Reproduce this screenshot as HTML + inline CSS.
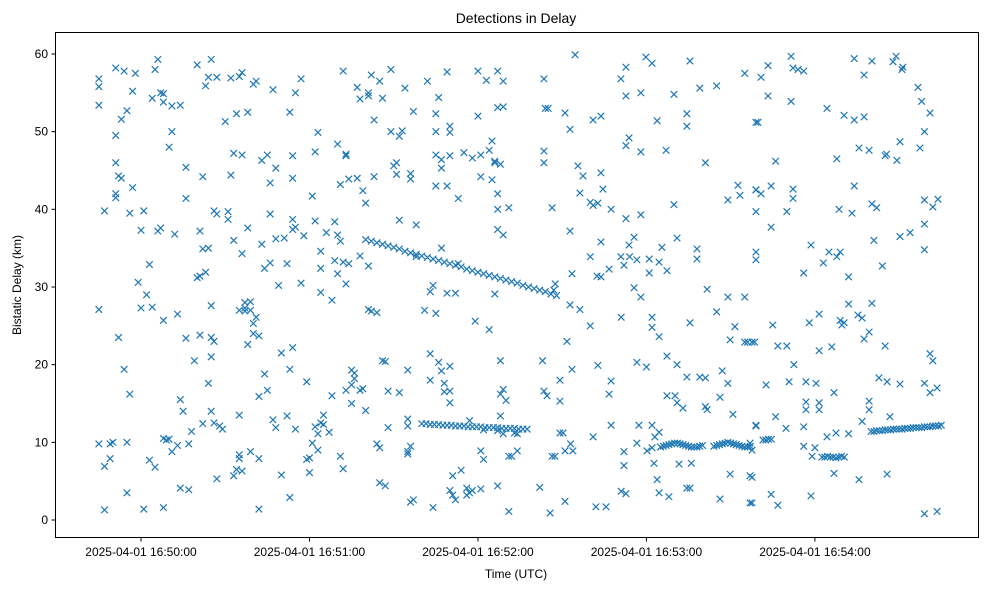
<!DOCTYPE html>
<html>
<head>
<meta charset="utf-8">
<style>
  html,body{margin:0;padding:0;background:#fff;}
  svg{display:block;font-family:"Liberation Sans","DejaVu Sans",sans-serif;}
</style>
</head>
<body>
<svg id="chart" width="989" height="590" viewBox="0 0 989 590">
  <rect x="0" y="0" width="989" height="590" fill="#fff"/>
  <text x="516" y="23" text-anchor="middle" font-size="14" fill="#000">Detections in Delay</text>
  <text x="516" y="578" text-anchor="middle" font-size="12" fill="#000">Time (UTC)</text>
  <text x="21" y="285" text-anchor="middle" font-size="12" fill="#000" transform="rotate(-90 21 285)">Bistatic Delay (km)</text>
  <g id="marks"></g>
  <g id="axes"></g>
  <rect x="55.5" y="32.5" width="923" height="505" fill="none" stroke="#000" stroke-width="1"/>
</svg>
<script>
// ---- data ----
const xTickSeconds = [0, 60, 120, 180, 240];
const xTickLabels = ["2025-04-01 16:50:00","2025-04-01 16:51:00","2025-04-01 16:52:00","2025-04-01 16:53:00","2025-04-01 16:54:00"];
const yTickValues = [0, 10, 20, 30, 40, 50, 60];
const yTickLabels = ["0","10","20","30","40","50","60"];
// seconds after 16:50:00 UTC, bistatic delay km
const scatterDetections = [
[-15,56.8],[-15,55.8],[-15,53.4],[-15,27.1],[-15,9.8],[-13,39.8],[-13,6.9],[-13,1.3],[-11,7.9],[-11,9.8],[-10,10],[-9,58.2],[-9,49.5],[-9,46],[-9,42],[-9,41.5],[-8,44.3],[-8,23.5],[-7,44],[-7,51.6],[-6,19.4],[-6,57.8],[-5,3.5],[-5,10],[-5,52.7],[-4,16.2],[-4,39.5],[-3,42.8],[-3,55.2],[-2,57.5],[-1,30.6],[0,27.3],[0,37.3],[1,39.8],[1,1.4],[2,29],[3,32.9],[3,7.7],[4,54.3],[4,27.4],[5,6.8],[5,58],[6,59.3],[6,37.2],[7,37.6],[7,55],[8,54.9],[8,53.8],[8,25.7],[8,1.6],[8,10.5],[9,10.3],[10,10.4],[10,48],[11,50],[11,53.3],[11,8.8],[12,36.8],[13,9.6],[13,26.5],[14,53.4],[14,15.5],[14,4.1],[15,14],[16,45.4],[16,41.4],[16,23.4],[17,3.9],[17,9.8],[18,11.4],[19,20.5],[20,58.6],[20,31.2],[21,37.2],[21,23.8],[21,31.4],[22,44.2],[22,34.9],[22,12.4],[23,31.9],[23,55.9],[24,57],[24,35],[24,17.6],[25,59.3],[25,27.6],[25,23.5],[25,21],[25,14],[26,12.5],[26,23],[26,39.8],[27,57],[27,5.3],[27,39.4],[28,12.1],[29,11.7],[30,51.3],[31,39.7],[31,38.7],[32,44.4],[32,56.9],[33,36],[33,47.2],[33,5.7],[34,52.3],[34,6.5],[35,57.1],[35,13.5],[35,7.9],[35,8.4],[35,27],[36,57.6],[36,34.3],[36,47],[36,6.3],[37,26.9],[37,28],[37,27.3],[38,52.5],[38,22.6],[38,37.6],[39,28.1],[39,27],[39,8.8],[40,56.1],[40,25.3],[40,24],[41,56.5],[41,26.1],[42,15.9],[42,7.9],[42,1.4],[42,23.7],[43,35.5],[43,46.3],[44,32.4],[44,18.8],[45,16.7],[45,47],[46,43.4],[46,39.4],[46,33.1],[47,55.4],[47,12.9],[48,11.9],[48,45.3],[48,36.2],[49,30.2],[50,21.5],[50,5.8],[51,36.3],[52,33],[52,13.4],[53,52.5],[53,19.4],[53,2.9],[54,37.4],[54,44],[54,46.9],[54,38.7],[54,22.2],[55,55],[55,37.7],[55,11.7],[57,56.8],[57,30.5],[58,36.6],[59,17.8],[59,7.8],[60,8],[60,6.1],[61,9.9],[61,41.7],[62,47.4],[62,38.5],[62,12],[63,49.9],[63,9],[63,11.1],[64,32.4],[64,29.3],[64,34.6],[64,12.5],[65,13.5],[65,12.3],[66,37],[67,11.3],[68,16],[68,28.3],[69,38.4],[69,33.4],[70,31.7],[70,48.4],[70,36.7],[71,8.2],[71,43.2],[71,35.9],[72,33.2],[72,57.8],[72,6.6],[73,30.4],[73,16.7],[73,46.9],[73,47.1],[74,43.9],[74,33],[75,15],[75,17.4],[75,19.3],[76,18.9],[76,18.2],[77,44],[77,55.7],[78,16.7],[78,54.2],[78,34],[79,42.4],[79,16.9],[80,40.8],[80,14.1],[81,27.1],[81,54.6],[81,32.7],[81,55],[82,26.9],[82,57.3],[83,51.5],[83,44.2],[84,9.8],[84,26.7],[85,4.8],[85,56.5],[85,9.3],[86,54.3],[86,20.5],[87,4.4],[87,20.4],[88,16.6],[88,11.9],[89,50],[89,58],[90,45.6],[91,46],[91,44.5],[92,49.4],[92,38.6],[92,16.4],[93,50.1],[94,55.6],[95,8.5],[95,19.3],[95,8.8],[95,13],[95,12.1],[96,9.5],[96,44.6],[96,43.9],[96,2.3],[97,2.6],[97,52.6],[98,33.9],[98,38],[101,27],[102,56.5],[103,18],[103,21.4],[103,29.4],[104,1.6],[104,30.2],[105,52.3],[105,50],[105,47],[105,43],[105,26.6],[106,54.4],[106,20.3],[107,45.3],[107,46.4],[107,19.2],[107,35],[108,17.6],[108,16.5],[109,57.7],[109,43],[109,29.2],[110,49.9],[110,50.7],[110,46.9],[110,3.8],[110,16.6],[110,19.8],[110,15.1],[111,5.7],[111,3.2],[112,2.6],[112,29.2],[113,41.4],[113,33],[114,6.4],[115,47.3],[116,3.2],[116,4.1],[117,3.5],[117,12.8],[118,46.6],[118,3.8],[119,25.6],[120,57.8],[120,52],[121,47],[121,8.9],[121,44.2],[121,4],[122,7.8],[122,11.6],[123,56.6],[124,47.6],[124,24.5],[125,48.8],[125,43.8],[126,29.1],[126,46.2],[126,46],[127,57.8],[127,53.1],[127,42],[127,40],[127,37.4],[127,11.5],[127,4.4],[128,13.4],[128,16.2],[128,20.5],[128,45.8],[129,56.5],[129,53.2],[129,36.7],[129,16.8],[129,11.1],[130,15.4],[131,8.2],[131,40.2],[131,1.1],[132,8.2],[133,11.2],[134,11.1],[134,8.9],
[154.6,59.9],[172.7,58.3],[170.9,56.8],[179.8,59.6],[182,58.8],[195.5,59.1],[215,57.5],[172.7,54.6],[178,55],[189.8,54.8],[199,55.6],[205,55.9],[143.5,56.8],[144,53],[145,53],[151,52.4],[152.8,50.3],[161,51.5],[163.8,52],[183.8,51.4],[194.4,52.3],[194.4,50.7],[219,51.2],[172.7,48.2],[173.8,49.2],[178,47.4],[187,47.6],[143.5,47.5],[143.5,46],[201,46],[155.6,45.6],[157.4,44.3],[163.8,44.7],[164.5,42.6],[156.3,42.1],[146.4,40.2],[160,40.9],[161,40.5],[162.7,40.8],[167.4,40],[172.7,38.8],[178,39.3],[189.8,40.6],[209,41.2],[212.6,43.1],[213.3,41.8],[219,42.5],[219,39.7],[152.8,37.2],[163.8,35.8],[173.8,35.4],[175.6,36.4],[185.5,35.1],[190.9,36.3],[160,33.9],[170.9,33.9],[172,32.8],[174,33.9],[176.6,33.5],[181,33.6],[181,31.8],[184.5,33.2],[187.3,32.1],[166.7,32.3],[162.4,31.4],[163.8,31.3],[153.5,31.7],[198,34.9],[198,33.6],[219,34.5],[219,33.5],[175.6,29.9],[178,28.7],[201.6,29.7],[209,28.7],[215,28.7],[152.8,27.7],[156.3,27.1],[205,26.8],[211.5,24.9],[209.8,23.2],[160,25],[171,26.1],[182,26.1],[182,24.8],[184.5,23.6],[195.5,25.4],[151.7,23],[215,22.9],[216,22.9],[143,20.5],[153.5,19.4],[162.7,19.9],[167.4,17.9],[166.7,16.2],[176.6,20.3],[180,19.7],[187.3,21.1],[190.9,20],[194.4,18.4],[199,18.4],[201,18.3],[207,19.2],[209,17.6],[149.2,18],[149.2,15.3],[143.5,16.6],[144.6,16],[187.3,16],[190.2,16],[190.9,15.1],[193,14.4],[201,14.6],[201.6,14.2],[206.2,15.8],[210.8,13.6],[219,12.2],[167.4,12.2],[177.3,12.2],[182,12.2],[184.5,11.3],[183,10.7],[149.2,11.2],[150.3,11.2],[161,10.7],[153,9.8],[151,8.9],[153.8,8.9],[146.4,8.2],[147.4,8.2],[176.6,9.9],[180.2,8.9],[182,9.3],[172,8.8],[172,7],[182.7,7.3],[191.6,7.2],[196,7.3],[209.8,5.9],[216.9,5.7],[183.8,5.2],[142,4.2],[171,3.7],[172.7,3.4],[184.5,3.5],[188,3],[194.4,4.1],[195.5,4.1],[206.2,2.7],[216.9,2.2],[151,2.4],[162,1.7],[165.6,1.7],[145.7,0.9],
[220.8,57],[223.3,58.5],[231.5,59.7],[232.2,58.2],[234,58],[236,57.8],[254,59.4],[257.5,57.3],[260.3,59.1],[267.8,59],[268.9,59.7],[271,58],[271.3,58.3],[276.7,55.7],[278,53.9],[281,52.4],[279,50],[277.4,47.9],[223.3,54.6],[231.5,53.9],[219.7,51.2],[244.3,53],[250.4,52.1],[254,51.5],[257.5,51.9],[226,46.2],[247.8,46.5],[255.7,47.9],[259.3,47.6],[265,46.9],[265.5,47.1],[269.2,46.3],[270.3,48.7],[219,42.5],[220.8,42],[224.4,43],[232.2,42.6],[232.2,41.4],[254,43],[230,39.7],[248.6,40],[253.2,39.5],[260.3,40.7],[262,40.2],[279,41.2],[283.8,41.3],[282,40.3],[224.4,37.7],[238.6,35.4],[245,34.5],[247.8,33.9],[249,34.5],[243,33.1],[236,31.8],[252,31.3],[261,36],[264,32.7],[270.3,36.5],[273.9,37],[279,38.1],[279,34.8],[252,27.8],[260.3,27.9],[241.5,26.5],[238,25.4],[249,25.7],[250.4,25.4],[249.6,25.1],[255.3,26.4],[256.8,26],[259.3,24.2],[257.5,23.3],[225,25.1],[217.6,22.9],[218.5,22.9],[226.8,22.4],[230,22.4],[232.5,20],[241.5,21.8],[246,22.3],[265,22.4],[281,21.4],[282,20.5],[222.6,17.4],[230.8,17.8],[236.8,17.8],[240.4,17.6],[246.8,16.4],[262.8,18.3],[265.7,17.8],[270.3,17.5],[279,17.6],[281,16.4],[283.5,17],[236.8,15.2],[236.8,14.2],[241.5,15.1],[241.5,14.2],[259.3,15.3],[259.3,14.2],[226,13.3],[219,12.1],[229.7,11.8],[236,12],[256.8,12.7],[266.7,13.3],[252,11.1],[244.3,10.7],[247.5,11.2],[216.9,9.9],[217.6,9.0],[236,9.5],[239,8.2],[240,9.3],[246.8,6],[255.7,5.2],[265.7,5.9],[217.6,5.5],[217.6,2.2],[224.4,3.3],[226.8,1.9],[238.6,3.1],[279,0.8],[283.5,1.1]
];
// dense target tracks
const trackA = [[80,36.1],[82,35.9],[84,35.7],[86,35.5],[88,35.3],[90,35.1],[92,34.9],[94,34.6],[96,34.4],[98,34.2],[100,34.0],[102,33.8],[104,33.6],[106,33.4],[108,33.2],[110,33.0],[112,32.8],[114,32.6],[116,32.3],[118,32.1],[120,31.9],[122,31.7],[124,31.5],[126,31.3],[128,31.1],[130,30.9],[132,30.7],[134,30.5],[136,30.2],[138,30.0],[140,29.8],[142,29.6],[144,29.4],[146,29.1],[148,28.9],[147,29.6],[147.5,30.4]];
const trackB = [[100,12.4],[101.5,12.4],[103,12.3],[104.5,12.3],[106,12.3],[107.5,12.2],[109,12.2],[110.5,12.2],[112,12.1],[113.5,12.1],[115,12.1],[116.5,12.0],[118,12.0],[119.5,12.0],[121,12.0],[122.5,11.9],[124,11.9],[125.5,11.9],[127,11.9],[128.5,11.8],[130,11.8],[131.5,11.8],[133,11.8],[134.5,11.7],[136,11.7],[137.5,11.7]];
const trackC = [[185,9.4],[186,9.5],[187,9.6],[188,9.7],[189,9.8],[190,9.9],[191,9.9],[192,9.8],[193,9.7],[194,9.6],[195,9.5],[196,9.4],[197,9.4],[198,9.4],[199,9.5],[200,9.6],[204,9.5],[205,9.6],[206,9.7],[207,9.8],[208,9.9],[209,10.0],[210,9.9],[211,9.8],[212,9.7],[213,9.6],[214,9.5],[215,9.4],[216,9.4],[217,9.5],[221.5,10.3],[222.5,10.3],[223.5,10.4],[224.5,10.4]];
const trackE = [[242.5,8.1],[243.5,8.1],[244.5,8.2],[245.5,8.1],[246.5,8.1],[247.5,8.0],[248.5,8.1],[249.5,8.2],[250.5,8.1]];
const trackD = [[260,11.4],[261,11.4],[262,11.5],[263,11.5],[264,11.5],[265,11.6],[266,11.6],[267,11.6],[268,11.7],[269,11.7],[270,11.7],[271,11.7],[272,11.8],[273,11.8],[274,11.8],[275,11.9],[276,11.9],[277,11.9],[278,11.9],[279,12.0],[280,12.0],[281,12.0],[282,12.1],[283,12.1],[284,12.1],[285,12.2]];

// ---- scales ----
const X0 = 141, PX_PER_S = 2.808;
const Y0 = 520, PX_PER_KM = 7.767;
function xScale(t){ return X0 + t * PX_PER_S; }
function yScale(d){ return Y0 - d * PX_PER_KM; }

const NS = "http://www.w3.org/2000/svg";
const marks = document.getElementById('marks');
const axes = document.getElementById('axes');

function drawX(pt){
  const cx = xScale(pt[0]), cy = yScale(pt[1]), r = 3.3;
  const p = document.createElementNS(NS, 'path');
  p.setAttribute('d', `M${cx-r},${cy-r}L${cx+r},${cy+r}M${cx-r},${cy+r}L${cx+r},${cy-r}`);
  p.setAttribute('stroke', '#1f77b4');
  p.setAttribute('stroke-width', '1.2');
  p.setAttribute('fill', 'none');
  
  
  marks.appendChild(p);
}
[scatterDetections, trackA, trackB, trackC, trackE, trackD].forEach(s => s.forEach(drawX));

// x ticks
xTickSeconds.forEach((t, i) => {
  const x = xScale(t);
  const tk = document.createElementNS(NS, 'line');
  tk.setAttribute('x1', x); tk.setAttribute('x2', x);
  tk.setAttribute('y1', 537.5); tk.setAttribute('y2', 541.5);
  tk.setAttribute('stroke', '#000');
  
  
  axes.appendChild(tk);
  const tx = document.createElementNS(NS, 'text');
  tx.setAttribute('x', x); tx.setAttribute('y', 556);
  tx.setAttribute('text-anchor', 'middle');
  tx.setAttribute('font-size', '12');
  tx.textContent = xTickLabels[i];
  
  
  axes.appendChild(tx);
});
// y ticks
yTickValues.forEach((v, i) => {
  const y = yScale(v);
  const tk = document.createElementNS(NS, 'line');
  tk.setAttribute('x1', 51.5); tk.setAttribute('x2', 55.5);
  tk.setAttribute('y1', y); tk.setAttribute('y2', y);
  tk.setAttribute('stroke', '#000');
  
  
  axes.appendChild(tk);
  const tx = document.createElementNS(NS, 'text');
  tx.setAttribute('x', 48); tx.setAttribute('y', y + 4);
  tx.setAttribute('text-anchor', 'end');
  tx.setAttribute('font-size', '12');
  tx.textContent = yTickLabels[i];
  
  
  axes.appendChild(tx);
});
</script>
</body>
</html>
